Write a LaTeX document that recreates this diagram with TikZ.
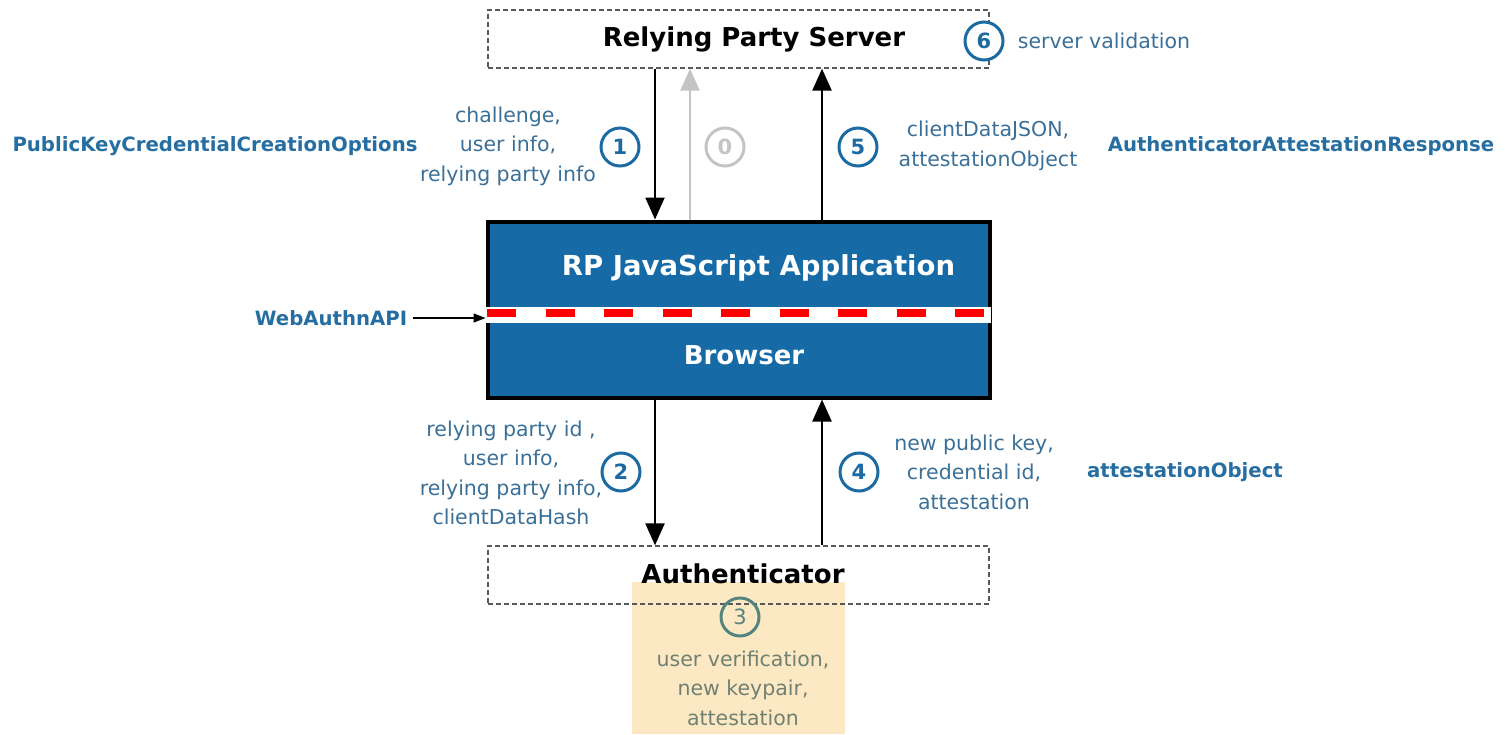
\documentclass[tikz,border=0pt]{standalone}
\usepackage{fontspec}
\setmainfont{DejaVu Sans}
\usetikzlibrary{arrows.meta}
\definecolor{boxblue}{RGB}{22,106,166}
\definecolor{txtblue}{RGB}{58,112,152}
\definecolor{bblue}{RGB}{38,110,162}
\definecolor{cblue}{RGB}{28,106,162}
\definecolor{orng}{RGB}{252,233,196}
\definecolor{teal3}{RGB}{84,132,126}
\definecolor{gray3}{RGB}{112,128,114}
\definecolor{lgray}{RGB}{196,196,196}
\tikzset{
  dbox/.style={draw=black!65, dash pattern=on 5pt off 3pt, line width=1.3pt, minimum width=501pt, minimum height=58pt, inner sep=0pt},
  title/.style={text=black, font=\fontsize{26}{30}\selectfont\bfseries, inner sep=0pt},
  wtitle/.style={text=white, font=\fontsize{26}{30}\selectfont\bfseries, inner sep=0pt},
  num/.style={circle, draw=cblue, line width=3pt, minimum size=38pt, inner sep=0pt, text=cblue, font=\fontsize{21}{21}\selectfont\bfseries},
  lbl/.style={text=txtblue, align=center, inner sep=0pt, font=\fontsize{20.5}{29.5}\selectfont},
  key/.style={text=bblue, inner sep=0pt, font=\fontsize{19.7}{22}\selectfont\bfseries},
  arr/.style={-{Triangle[length=22pt,width=19pt]}, line width=2.4pt},
}
\begin{document}
\begin{tikzpicture}[x=1pt,y=-1pt]
\path[use as bounding box] (0,0) rectangle (1505,734);

% orange backdrop for step 3
\fill[orng] (632,582) rectangle (845,734);

% boxes
\node[dbox] (srv) at (738.5,39) {};
\node[title] (srvlbl) at (754,39) {Relying Party Server};
\node[dbox] (auth) at (738.5,575) {};
\node[title] (authlbl) at (743,574) {Authenticator};

\node[draw=black, line width=4pt, fill=boxblue, minimum width=502pt, minimum height=176pt, inner sep=0pt] (app) at (738.5,309.5) {};
\fill[white] (485,306.5) rectangle (991,323);
\draw[red, line width=8pt, dash pattern=on 29pt off 29.5pt] (487,312.5) -- (990,312.5);
\node[wtitle, font=\fontsize{27.5}{30}\selectfont\bfseries] (jslbl) at (758.5,268) {RP JavaScript Application};
\node[wtitle] (brlbl) at (744,355) {Browser};

% connector x positions
\coordinate (c1) at (655,0);
\coordinate (c0) at (690,0);
\coordinate (c5) at (822,0);

\draw[arr] (srv.south -| c1) -- (app.north -| c1);
\draw[arr, draw=lgray, fill=lgray] (app.north -| c0) -- (srv.south -| c0);
\draw[arr] (app.north -| c5) -- (srv.south -| c5);
\draw[arr] (app.south -| c1) -- (auth.north -| c1);
\draw[arr] (auth.north -| c5) -- (app.south -| c5);

% numbered circles
\node[num, fill=white] (n6) at (984,41) {6};
\node[num] (n1) at (620,147) {1};
\node[num, draw=lgray, text=lgray] (n0) at (725,147) {0};
\node[num] (n5) at (858,147) {5};
\node[num] (n2) at (621,472) {2};
\node[num] (n4) at (859,472) {4};
\node[num, draw=teal3, text=teal3, font=\fontsize{21}{21}\selectfont] (n3) at (740,617) {3};

% labels
\node[lbl] (l6) at (1104,41) {server validation};
\node[lbl] (l1) at (508,146) {challenge,\\user info,\\relying party info};
\node[lbl] (l5) at (988,146) {clientDataJSON,\\attestationObject};
\node[lbl] (l2) at (511,473) {relying party id ,\\user info,\\relying party info,\\clientDataHash};
\node[lbl] (l4) at (974,472) {new public key,\\credential id,\\attestation};
\node[lbl, text=gray3] (l3) at (743,688) {user verification,\\new keypair,\\attestation};

\node[key] (k1) at (215,146) {PublicKeyCredentialCreationOptions};
\node[key] (k5) at (1301,146) {AuthenticatorAttestationResponse};
\node[key] (k4) at (1185,472) {attestationObject};
\node[key] (wa) at (331,318) {WebAuthnAPI};
\draw[-{Triangle[length=12pt,width=9pt]}, line width=1.5pt] (wa.east) ++(6,0) -- (app.west |- wa.east);
\end{tikzpicture}
\end{document}
